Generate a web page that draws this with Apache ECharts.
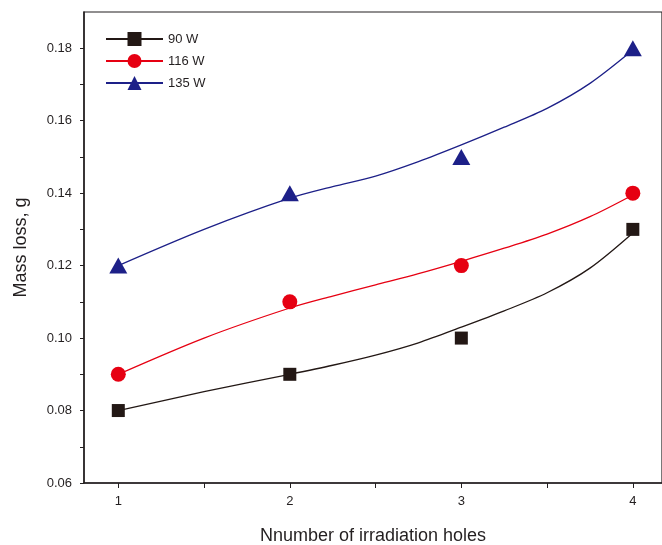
<!DOCTYPE html>
<html>
<head>
<meta charset="utf-8">
<script src="https://cdn.jsdelivr.net/npm/echarts@6/dist/echarts.min.js"></script>
<style>
  html, body { margin: 0; padding: 0; background: #fff; }
  #chart-container { width: 662px; height: 545px; }
</style>
</head>
<body>
<div id="chart-container"></div>
<script>
// measured points
var holes = [1, 2, 3, 4];
var w90 = [0.08, 0.09, 0.10, 0.13];
var w116 = [0.09, 0.11, 0.12, 0.14];
var w135 = [0.12, 0.14, 0.15, 0.18];

// fitted curves
var fitX = [1, 1.5, 2, 2.25, 2.5, 2.75, 3, 3.25, 3.5, 3.75, 4];
var fit90 = [0.0800, 0.0852, 0.0900, 0.0925, 0.0953, 0.0987, 0.1030, 0.1075, 0.1125, 0.1193, 0.1290];
var fit116 = [0.0900, 0.1000, 0.1083, 0.1116, 0.1147, 0.1178, 0.1212, 0.1248, 0.1287, 0.1335, 0.1395];
var fit135 = [0.1200, 0.1300, 0.1386, 0.1418, 0.1447, 0.1487, 0.1533, 0.1582, 0.1634, 0.1703, 0.1795];

var xTicks = [1, 1.5, 2, 2.5, 3, 3.5, 4];
var xLabels = [1, 2, 3, 4];
var yLabels = [0.06, 0.08, 0.10, 0.12, 0.14, 0.16, 0.18];
var yTicks = [0.06, 0.07, 0.08, 0.09, 0.10, 0.11, 0.12, 0.13, 0.14, 0.15, 0.16, 0.17, 0.18];

var names = ['90 W', '116 W', '135 W'];
var colors = ['#231815', '#e60012', '#1d2088'];
var symbols = ['rect', 'circle', 'triangle'];
var sizes = [13, 15, [18, 16]];

function pairs(xs, ys) {
  return xs.map(function (x, i) { return [x, ys[i]]; });
}

var dom = document.getElementById('chart-container');
var myChart = echarts.init(dom, null, { renderer: 'canvas' });
var font = 'Liberation Sans, Arial, sans-serif';
var axisColor = '#231f20';

var series = [];
[fit90, fit116, fit135].forEach(function (f, i) {
  series.push({
    name: names[i],
    type: 'line',
    smooth: 0.3,
    showSymbol: false,
    symbol: symbols[i],
    color: colors[i],
    lineStyle: { width: 1.3, color: colors[i] },
    z: 2,
    data: pairs(fitX, f)
  });
});
[w90, w116, w135].forEach(function (d, i) {
  series.push({
    name: names[i],
    type: 'scatter',
    symbol: symbols[i],
    symbolSize: sizes[i],
    itemStyle: { color: colors[i], opacity: 1 },
    z: 3,
    data: pairs(holes, d)
  });
});

var option = {
  animation: false,
  grid: {
    left: 84, right: 0, top: 12, bottom: 62,
    outerBoundsMode: 'none',
    show: true, borderColor: axisColor, borderWidth: 1.2
  },
  legend: {
    data: names,
    orient: 'vertical',
    left: 100,
    top: 27,
    itemWidth: 57,
    itemHeight: 17.5,
    itemGap: 8,
    textStyle: { fontFamily: font, fontSize: 13, color: axisColor }
  },
  xAxis: {
    type: 'value',
    min: 0.8,
    max: 4.17,
    name: 'Nnumber of irradiation holes',
    nameLocation: 'middle',
    nameGap: 44,
    nameTextStyle: { fontFamily: font, fontSize: 18, color: axisColor },
    axisLine: { onZero: false, lineStyle: { color: axisColor, width: 1.5 } },
    axisTick: { show: true, length: 5, customValues: xTicks, lineStyle: { color: axisColor } },
    axisLabel: {
      customValues: xLabels, margin: 12,
      fontFamily: font, fontSize: 13, color: axisColor
    },
    splitLine: { show: false }
  },
  yAxis: {
    type: 'value',
    min: 0.06,
    max: 0.19,
    name: 'Mass loss, g',
    nameLocation: 'middle',
    nameGap: 54,
    nameTextStyle: { fontFamily: font, fontSize: 18, color: axisColor },
    axisLine: { show: true, onZero: false, lineStyle: { color: axisColor, width: 1.5 } },
    axisTick: { show: true, length: 4, customValues: yTicks, lineStyle: { color: axisColor } },
    axisLabel: {
      customValues: yLabels, margin: 12,
      fontFamily: font, fontSize: 13, color: axisColor,
      formatter: function (v) { return v.toFixed(2); }
    },
    splitLine: { show: false }
  },
  series: series
};

myChart.setOption(option);
window.addEventListener('resize', myChart.resize);
</script>
</body>
</html>
